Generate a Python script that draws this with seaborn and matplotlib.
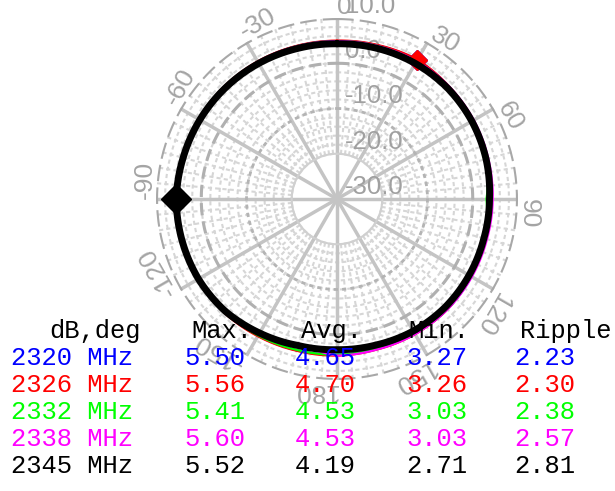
import numpy as np
import pandas as pd
import seaborn as sns
import matplotlib.pyplot as plt
import matplotlib.transforms as mtransforms

sns.set_style("white")
plt.rcParams['font.family'] = ['Liberation Sans', 'DejaVu Sans']

# pattern data, dB vs angle (deg, 0 = top, clockwise)
angles = [0, 15, 30, 45, 60, 75, 90, 105, 120, 135, 150, 165,
          180, 195, 210, 225, 240, 255, 270, 285, 300, 315, 330, 345]
db_2320 = [4.9, 5.1, 5.50, 5.0, 4.7, 4.2, 3.27, 3.6, 4.3, 4.5, 4.4, 4.2,
           4.4, 4.6, 4.9, 5.3, 5.4, 5.4, 5.35, 5.3, 5.2, 5.1, 5.0, 4.9]
db_2326 = [5.0, 5.2, 5.56, 5.1, 4.8, 4.3, 3.9, 3.26, 4.2, 4.5, 4.5, 4.4,
           4.6, 4.7, 5.0, 5.4, 5.5, 5.5, 5.45, 5.4, 5.3, 5.2, 5.1, 5.0]
db_2332 = [4.9, 5.0, 5.1, 4.9, 4.7, 4.3, 3.03, 3.9, 4.2, 4.4, 4.3, 4.2,
           4.4, 4.5, 4.8, 5.2, 5.3, 5.35, 5.41, 5.2, 5.1, 5.0, 4.9, 4.9]
db_2338 = [4.9, 5.0, 5.2, 5.1, 4.9, 4.6, 4.4, 4.3, 4.4, 4.5, 4.5, 4.4,
           4.6, 3.03, 4.6, 5.2, 5.4, 5.5, 5.60, 5.3, 5.2, 5.1, 5.0, 4.9]
db_2345 = [4.3, 4.45, 4.6, 4.6, 4.4, 4.1, 3.7, 3.6, 3.7, 3.8, 3.7, 3.4,
           3.3, 3.5, 4.2, 5.0, 5.35, 5.45, 5.52, 5.2, 5.0, 4.8, 4.6, 4.4]

freqs = ['2320', '2326', '2332', '2338', '2345']
colors = ['#0000ff', '#ff0000', '#00ff00', '#ff00ff', '#000000']
series = [db_2320, db_2326, db_2332, db_2338, db_2345]

# table values
tab_max = ['5.50', '5.56', '5.41', '5.60', '5.52']
tab_avg = ['4.65', '4.70', '4.53', '4.53', '4.19']
tab_min = ['3.27', '3.26', '3.03', '3.03', '2.71']
tab_rip = ['2.23', '2.30', '2.38', '2.57', '2.81']

ring_labels = ['10.0', '0.0', '-10.0', '-20.0', '-30.0']
ring_values = [10, 0, -10, -20, -30]
angle_ticks = [0, 30, 60, 90, 120, 150, 180, -150, -120, -90, -60, -30]

W, H = 615, 491
fig = plt.figure(figsize=(W / 100, H / 100), dpi=100)
cx, cy, R = 337, 199, 181
ax = fig.add_axes([(cx - R) / W, 1 - (cy + R) / H, 2 * R / W, 2 * R / H],
                  projection='polar')
ax.set_theta_zero_location('N')
ax.set_theta_direction(-1)
ax.set_ylim(-30, 10)
ax.grid(False)
ax.set_xticks([])
ax.set_yticks([])
ax.spines['polar'].set_visible(False)
ax.patch.set_alpha(0)

th = np.linspace(0, 2 * np.pi, 721)
fine = '#d6d6d6'
for r in range(-20, 10, 2):
    ax.plot(th, np.full_like(th, r), color=fine, lw=1.5, ls=(0, (2, 1.5)), zorder=1)
for a in range(0, 360, 5):
    ax.plot([np.radians(a)] * 2, [-20, 10], color=fine, lw=1.5, ls=(0, (2, 1.5)), zorder=1)

for a in range(0, 360, 30):
    ax.plot([np.radians(a)] * 2, [-30, 10], color='#c4c4c4', lw=2.5, zorder=1.5)
ax.plot(th, np.full_like(th, -20), color='#d0d0d0', lw=1.5, zorder=1.5)
ax.plot(th, np.full_like(th, -10), color='#b4b4b4', lw=2, ls=(0, (1.5, 1.5)), zorder=1.5)
ax.plot(th, np.full_like(th, 0), color='#b0b0b0', lw=2.2, ls=(0, (4, 2)), zorder=1.5)
ax.plot(th, np.full_like(th, 10), color='#a8a8a8', lw=3, ls=(0, (4, 1.5)), zorder=1.5)

# radial labels
trans = mtransforms.offset_copy(ax.transData, fig=fig, x=8, y=0, units='dots')
for lab, r in zip(ring_labels, ring_values):
    ax.text(0, r, lab, transform=trans, ha='left', va='bottom', color='#a0a0a0',
            fontsize=18.5, zorder=2, clip_on=False)

# angle labels: text starts at the tick angle and runs clockwise
for a in angle_ticks:
    ax.text(np.radians(a), 12.4, str(a), rotation=-a, rotation_mode='anchor',
            ha='left', va='center', color='#a4a4a4', fontsize=19, clip_on=False)

# curves (closed at 360 deg so the last segment runs forward)
theta = np.radians(angles + [360])
for f, c, vals in zip(freqs, colors, series):
    df = pd.DataFrame({'theta': theta, 'db': vals + [vals[0]]})
    lw = 5 if c == '#000000' else 1.6
    z = 5 if c == '#000000' else 3
    sns.lineplot(data=df, x='theta', y='db', sort=False, estimator=None, color=c,
                 lw=lw, ax=ax, zorder=z)
    ax.lines[-1].get_path()._interpolation_steps = 40
    i = int(np.argmax(vals))
    ax.plot(np.radians(angles[i]), vals[i], marker='D',
            ms=15 if c == '#000000' else 10, color=c, zorder=z + 0.5)
ax.set_xlabel('')
ax.set_ylabel('')
ax.set_ylim(-30, 10)

# table
mono = dict(family='Liberation Mono', fontsize=18.4, va='center', ha='left')
def put(px, py, s, c='black'):
    fig.text(px / W, 1 - py / H, s, color=c, **mono)

put(49, 331, 'dB,deg')
put(191, 331, 'Max.')
put(301, 331, 'Avg.')
put(408, 331, 'Min.')
put(520, 331, 'Ripple')
for k in range(5):
    y = 358 + 27 * k
    put(11, y, freqs[k] + ' MHz', colors[k])
    put(184, y, tab_max[k], colors[k])
    put(295, y, tab_avg[k], colors[k])
    put(406, y, tab_min[k], colors[k])
    put(514, y, tab_rip[k], colors[k])

fig.savefig('out.png', dpi=100, facecolor='white')
